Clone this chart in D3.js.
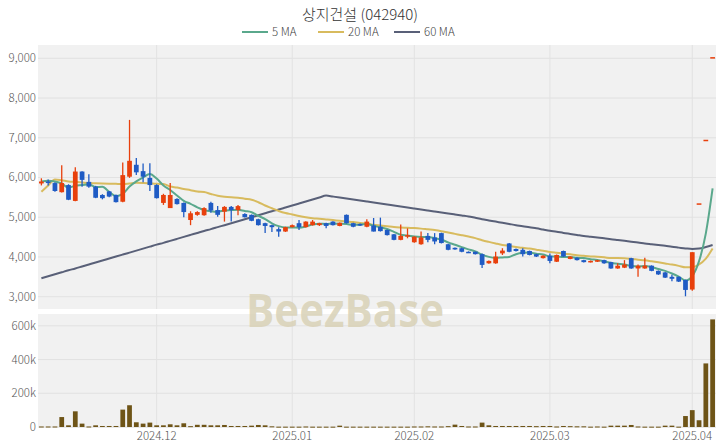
<!DOCTYPE html>
<html><head><meta charset="utf-8">
<script src="https://cdn.jsdelivr.net/npm/d3@7"></script>
<style>html,body{margin:0;padding:0;background:#fff;}svg{display:block;font-family:"Noto Sans CJK KR","Noto Sans",sans-serif;}</style>
</head><body>
<svg id="c" width="720" height="448"></svg>
<script>
const title = "상지건설 (042940)";
const monthTicks = [17, 37, 55, 75, 96];
const monthLabels = ["2024.12", "2025.01", "2025.02", "2025.03", "2025.04"];
const priceTicks = [3000, 4000, 5000, 6000, 7000, 8000, 9000];
const volTicks = [0, 200000, 400000, 600000];
const volTickLabels = ["0", "200k", "400k", "600k"];
const maNames = ["5 MA", "20 MA", "60 MA"];

const open = [5850,5900,5860,5630,5810,5410,6150,5890,5770,5560,5650,5560,5390,6020,6320,6160,5990,5810,5360,5230,
5460,5360,4930,5060,5050,5360,5180,5140,5260,5180,5080,5060,4950,4850,4800,4700,4640,4750,4850,4750,
4800,4800,4850,4890,4780,5060,4850,4830,4760,4790,4760,4680,4570,4430,4510,4370,4320,4530,4490,4600,
4320,4230,4220,4130,4130,4070,3840,3840,4090,4340,4200,4180,4150,4070,3970,4030,3880,4150,3950,3980,
3920,3870,3880,3920,3870,3710,3730,3970,3710,3710,3780,3650,3610,3500,3500,3420,3180,5350,6950,9030];
const high = [5980,5950,5880,6310,5830,6260,6160,6080,5790,5580,5660,5570,6380,7450,6490,6350,6360,5830,5590,5860,
5480,5370,5150,5150,5250,5390,5280,5280,5280,5310,5100,5070,4960,4860,4810,4750,4760,4820,4930,4900,
4930,4860,4860,4900,4870,5070,4860,4840,4950,4980,4990,4690,4580,4820,4720,4520,4640,4600,4600,4610,
4330,4240,4230,4140,4140,4090,3910,4130,4220,4350,4210,4220,4160,4080,4040,4090,4060,4160,4020,3990,
3930,3910,3930,3930,3880,3840,3920,3980,3810,3980,3790,3660,3620,3550,3510,3430,4120,5350,6950,9030];
const low = [5800,5800,5640,5620,5430,5400,5770,5740,5480,5450,5500,5370,5380,5990,6060,5880,5660,5470,5310,5230,
5320,5000,4800,5040,5040,5110,5010,4890,4890,5050,4990,4900,4790,4600,4630,4510,4630,4740,4680,4740,
4790,4780,4720,4790,4770,4840,4750,4780,4750,4640,4640,4540,4420,4420,4470,4360,4310,4370,4320,4340,
4170,4180,4120,4100,4060,3720,3830,3830,4050,4120,4140,4010,4040,4000,3960,3840,3870,4000,3940,3910,
3860,3860,3870,3830,3700,3700,3720,3700,3500,3700,3640,3550,3470,3390,3370,3010,3150,5350,6950,9030];
const close = [5900,5860,5660,5860,5440,6150,5940,5770,5490,5480,5520,5380,6060,6420,6130,6020,5810,5480,5560,5560,
5330,5130,5100,5130,5230,5170,5060,5260,5180,5280,5000,4910,4800,4780,4750,4640,4750,4800,4750,4890,
4890,4850,4780,4800,4860,4850,4760,4790,4890,4640,4650,4550,4430,4530,4550,4510,4490,4430,4390,4350,
4180,4190,4130,4110,4070,3800,3900,4010,4160,4130,4150,4070,4050,4010,4030,3900,4050,4010,4010,3920,
3870,3900,3920,3840,3710,3780,3810,3710,3780,3780,3650,3560,3480,3450,3380,3170,4120,5350,6950,9030];
const volume = [3000,3000,3000,59000,10000,93000,20000,3000,10000,6000,6000,6000,103000,129000,28000,20000,26000,10000,10000,16000,
10000,22000,5000,13000,13000,10000,10000,12000,6000,6000,6000,8000,12000,10000,4000,2000,2000,2000,2000,3000,
2000,2000,2000,2000,8000,2000,2000,2000,2000,2000,2000,2000,2000,2000,2000,3000,3000,4000,3000,3000,
5000,14000,6000,3000,3000,26000,10000,6000,6000,6000,6000,6000,6000,5000,6000,6000,3000,6000,5000,4000,
4000,2000,3000,2000,8000,8000,8000,12000,3000,2000,2000,2000,8000,8000,2000,65000,100000,40000,377000,638000];
// moving-average values read from the chart where the visible closes don't cover the window
const ma5Head = [5900,5920,5900,5850];
const ma20Head = [5640,5800,5950,5930,5900,5890,5875,5860,5855,5850,5845,5840,5836,5850,5865,5860,5850,5840,5836];
const ma60 = [3465,3515,3565,3615,3665,3710,3760,3810,3860,3910,3960,4010,4060,4110,4160,4210,4260,4310,4355,4405,
4455,4505,4555,4605,4655,4700,4750,4800,4850,4900,4950,5000,5050,5100,5150,5195,5245,5295,5345,5395,
5445,5495,5545,5520,5495,5470,5445,5420,5395,5370,5345,5320,5295,5270,5245,5220,5195,5170,5145,5120,
5095,5070,5045,5020,4985,4950,4920,4890,4860,4830,4800,4775,4745,4720,4690,4660,4635,4605,4580,4555,
4530,4510,4490,4470,4445,4425,4405,4385,4365,4340,4320,4300,4280,4255,4235,4215,4200,4210,4250,4300];

const colors = {up:"#e8400c", down:"#1f5bc4", ma5:"#5aa88c", ma20:"#d8bb5e", ma60:"#596078", vol:"#6e5417",
  bg:"#f1f1f1", grid:"#e2e2e2", text:"#555"};

function sma(arr, n, head){
  return arr.map((v,i)=> i < n-1 ? head[i] : d3.mean(arr.slice(i-n+1,i+1)));
}
const ma5 = sma(close,5,ma5Head);
const ma20 = sma(close,20,ma20Head);

const N = close.length;
const svg = d3.select("#c");
const L = 38, R = 716;
const pTop = 45, pBot = 309, vTop = 314, vBot = 428;

const x = d3.scaleBand().domain(d3.range(N)).range([L,R]).padding(0);
const cx = i => x(i) + x.bandwidth()/2;
const y = d3.scaleLinear().domain([2690, 9335]).range([pBot, pTop]);
const yv = d3.scaleLinear().domain([0, 670000]).range([427, 314]);

// panels
svg.append("rect").attr("x",L).attr("y",pTop).attr("width",R-L).attr("height",pBot-pTop).attr("fill",colors.bg);
svg.append("rect").attr("x",L).attr("y",vTop).attr("width",R-L).attr("height",vBot-vTop).attr("fill",colors.bg);

// grid
const g = svg.append("g");
g.selectAll(".hp").data(priceTicks).join("line")
  .attr("x1",L).attr("x2",R).attr("y1",d=>y(d)).attr("y2",d=>y(d)).attr("stroke",colors.grid).attr("stroke-width",1);
g.selectAll(".hv").data(volTicks).join("line")
  .attr("x1",L).attr("x2",R).attr("y1",d=>yv(d)).attr("y2",d=>yv(d)).attr("stroke",colors.grid).attr("stroke-width",1);
monthTicks.forEach(t=>{
  g.append("line").attr("x1",cx(t)).attr("x2",cx(t)).attr("y1",pTop).attr("y2",pBot).attr("stroke",colors.grid);
  g.append("line").attr("x1",cx(t)).attr("x2",cx(t)).attr("y1",vTop).attr("y2",vBot).attr("stroke",colors.grid);
});

// watermark
svg.append("text").attr("x",345).attr("y",327).attr("text-anchor","middle")
  .attr("font-family","'Open Sans','Noto Sans',sans-serif").attr("font-weight","bold").attr("font-size",47)
  .attr("textLength",198).attr("lengthAdjust","spacingAndGlyphs")
  .attr("fill","#d9d1b6").attr("fill-opacity",0.85).text("BeezBase");

// axes labels
const fmt = d3.format(",");
svg.append("g").selectAll("text").data(priceTicks).join("text")
  .attr("x",36).attr("y",d=>y(d)+4).attr("text-anchor","end").attr("font-size",11.5).attr("font-weight",300).attr("fill",colors.text).text(d=>fmt(d));
svg.append("g").selectAll("text").data(volTicks).join("text")
  .attr("x",36).attr("y",d=>yv(d)+4).attr("text-anchor","end").attr("font-size",11.5).attr("font-weight",300).attr("fill",colors.text).text((d,i)=>volTickLabels[i]);
svg.append("g").selectAll("text").data(monthTicks).join("text")
  .attr("x",d=>cx(d)).attr("y",440).attr("text-anchor","middle").attr("font-size",11.5).attr("font-weight",300).attr("fill",colors.text).text((d,i)=>monthLabels[i]);

// volume
const bw = x.bandwidth()*0.7;
svg.append("g").selectAll("rect").data(volume).join("rect")
  .attr("x",(d,i)=>cx(i)-bw/2).attr("width",bw)
  .attr("y",d=>yv(d)).attr("height",d=>Math.max(1,yv(0)-yv(d))).attr("fill",colors.vol);

// MA lines
const line = d3.line().x((d,i)=>cx(i)).y(d=>y(d)).curve(d3.curveMonotoneX);
[[ma60,colors.ma60],[ma20,colors.ma20],[ma5,colors.ma5]].forEach(([arr,c])=>{
  svg.append("path").attr("d",line(arr)).attr("fill","none").attr("stroke",c).attr("stroke-width",2);
});

// candles
const cw = x.bandwidth()*0.7;
const cg = svg.append("g").selectAll("g").data(d3.range(N)).join("g");
cg.append("line").attr("x1",i=>cx(i)).attr("x2",i=>cx(i)).attr("y1",i=>y(high[i])).attr("y2",i=>y(low[i]))
  .attr("stroke",i=>close[i]>=open[i]?colors.up:colors.down).attr("stroke-width",1.3);
cg.append("rect").attr("x",i=>cx(i)-cw/2).attr("width",cw)
  .attr("y",i=>y(Math.max(open[i],close[i]))).attr("height",i=>Math.max(1.5,Math.abs(y(open[i])-y(close[i]))))
  .attr("fill",i=>close[i]>=open[i]?colors.up:colors.down);

// title & legend
svg.append("text").attr("x",360).attr("y",20).attr("text-anchor","middle").attr("font-size",15).attr("font-weight",300).attr("fill","#333").text(title);
const legX = [242, 318, 394];
const legC = [colors.ma5, colors.ma20, colors.ma60];
maNames.forEach((n,i)=>{
  svg.append("line").attr("x1",legX[i]).attr("x2",legX[i]+26).attr("y1",32).attr("y2",32).attr("stroke",legC[i]).attr("stroke-width",2);
  svg.append("text").attr("x",legX[i]+30).attr("y",36).attr("font-size",11.5).attr("font-weight",300).attr("fill","#444").text(n);
});
</script>
</body></html>
